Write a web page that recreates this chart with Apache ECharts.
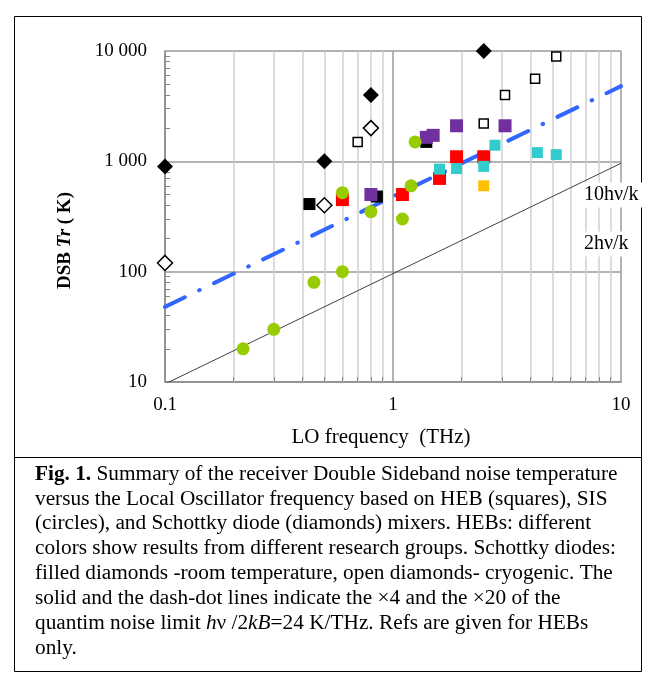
<!DOCTYPE html>
<html lang="en">
  <head>
    <meta charset="UTF-8" />
    <title>Receiver noise temperature vs LO frequency</title>
    <style>
      html,
      body {
        margin: 0;
        padding: 0;
        background: #fff;
      }
      #chart {
        width: 654px;
        height: 681px;
      }
    </style>
    <script src="https://cdn.jsdelivr.net/npm/echarts@6/dist/echarts.min.js"></script>
  </head>
  <body>
    <div id="chart"></div>
    <script>
      // points are [LO frequency (THz), DSB Tr (K)]
      const schottkyRoom = [[0.1, 900], [0.5, 1000], [0.8, 4000], [2.5, 10000]]
      const schottkyCryo = [[0.1, 120], [0.5, 400], [0.8, 2000]]
      const sis = [[0.22, 20], [0.3, 30], [0.45, 80], [0.6, 100], [0.6, 520], [0.8, 350], [1.1, 300], [1.2, 600], [1.25, 1500]]
      const hebBlack = [[0.43, 410], [0.85, 480], [1.4, 1500]]
      const hebOpen = [[0.7, 1500], [2.5, 2200], [3.1, 4000], [4.2, 5600], [5.2, 8900]]
      const hebPurple = [[0.8, 500], [1.4, 1650], [1.5, 1720], [1.9, 2100], [3.1, 2100]]
      const hebRed = [[0.6, 450], [1.1, 500], [1.6, 700], [1.9, 1100], [2.5, 1100]]
      const hebCyan = [[1.6, 850], [1.9, 860], [2.5, 900], [2.8, 1400], [4.3, 1200], [5.2, 1150]]
      const hebYellow = [[2.5, 600]]

      // x4 (2hv/k) and x20 (10hv/k) of hv/2k = 24 K/THz
      const line2hvk = [[0.1, 9.6], [10, 960]]
      const line10hvk = [[0.1, 48], [10, 4800]]

      const xMinor = [0.2, 0.3, 0.4, 0.5, 0.6, 0.7, 0.8, 0.9, 2, 3, 4, 5, 6, 7, 8, 9]
      const yMinor = [20, 30, 40, 50, 60, 70, 80, 90, 200, 300, 400, 500, 600, 700, 800, 900,
        2000, 3000, 4000, 5000, 6000, 7000, 8000, 9000]

      const caption = [
        '{b|Fig. 1.} Summary of the receiver Double Sideband noise temperature',
        'versus the Local Oscillator frequency based on HEB (squares), SIS',
        '(circles), and Schottky diode (diamonds) mixers. HEBs: different',
        'colors show results from different research groups. Schottky diodes:',
        'filled diamonds -room temperature, open diamonds- cryogenic. The',
        'solid and the dash-dot lines indicate the \u00d74 and the \u00d720 of the',
        'quantim noise limit {i|h}\u03bd /2{i|kB}=24 K/THz. Refs are given for HEBs',
        'only.'
      ]

      const serif = '"Liberation Serif", "Times New Roman", serif'
      const chart = echarts.init(document.getElementById('chart'))

      function thousands(v) {
        return String(v).replace(/\B(?=(\d{3})+(?!\d))/g, ' ')
      }

      function scatter(name, data, symbol, size, color, border) {
        return {
          name,
          type: 'scatter',
          data,
          symbol,
          symbolSize: size,
          z: 3,
          silent: true,
          itemStyle: border
            ? { color: '#fff', borderColor: '#000', borderWidth: 1.5, opacity: 1 }
            : { color, opacity: 1 }
        }
      }

      const tickGrey = '#8a8a8a'
      const gridLines = xMinor.map(v => ({ xAxis: v }))
      const ticks = yMinor
        .map(v => [{ coord: [0.1, v] }, { coord: [0.1053, v] }])
        .concat(xMinor.map(v => [{ coord: [v, 10] }, { coord: [v, 11.1] }]))

      const options = {
        animation: false,
        grid: { left: 165, right: 33, top: 51, bottom: 299 },
        xAxis: {
          type: 'log',
          logBase: 10,
          min: 0.1,
          max: 10,
          name: 'LO frequency  (THz)',
          nameLocation: 'middle',
          nameGap: 45,
          nameTextStyle: { fontFamily: serif, fontSize: 21, color: '#000', padding: [0, 24, 0, 0] },
          axisLine: { lineStyle: { color: tickGrey, width: 1.5 } },
          axisTick: { show: false },
          axisLabel: { fontFamily: serif, fontSize: 19, color: '#000', margin: 14 },
          splitLine: { show: true, lineStyle: { color: '#9a9a9a', width: 1.5 } }
        },
        yAxis: {
          type: 'log',
          logBase: 10,
          min: 10,
          max: 10000,
          name: 'DSB {i|Tr} ( K)',
          nameLocation: 'middle',
          nameGap: 90,
          nameTextStyle: {
            fontFamily: serif,
            fontSize: 19,
            fontWeight: 'bold',
            color: '#000',
            padding: [0, 48, 0, 0],
            rich: {
              i: { fontFamily: serif, fontSize: 19, fontWeight: 'bold', fontStyle: 'italic', color: '#000' }
            }
          },
          axisLine: { show: true, lineStyle: { color: tickGrey, width: 1.5 } },
          axisTick: { show: false },
          axisLabel: { fontFamily: serif, fontSize: 19, color: '#000', margin: 18, formatter: thousands },
          splitLine: { show: true, lineStyle: { color: '#9a9a9a', width: 1.5 } }
        },
        series: [
          {
            // minor vertical grid
            type: 'line',
            data: [],
            z: 1,
            silent: true,
            markLine: {
              z: 1,
              silent: true,
              symbol: 'none',
              label: { show: false },
              animation: false,
              lineStyle: { type: 'solid', color: '#d0d0d0', width: 1.5 },
              data: gridLines
            }
          },
          {
            // minor ticks on the axes
            type: 'line',
            data: [],
            z: 1,
            silent: true,
            markLine: {
              z: 1,
              silent: true,
              symbol: 'none',
              label: { show: false },
              animation: false,
              lineStyle: { type: 'solid', color: tickGrey, width: 1 },
              data: ticks
            }
          },
          {
            name: '2hv/k',
            type: 'line',
            data: line2hvk,
            symbol: 'none',
            z: 2,
            silent: true,
            lineStyle: { color: '#404040', width: 1 }
          },
          {
            name: '10hv/k',
            type: 'line',
            data: line10hvk,
            symbol: 'none',
            z: 2,
            silent: true,
            lineStyle: { color: '#3366ff', width: 4, type: [22, 16, 0.5, 16], cap: 'round' }
          },
          scatter('HEB black', hebBlack, 'rect', 12, '#000'),
          scatter('HEB open', hebOpen, 'rect', 9, null, true),
          scatter('Schottky cryo', schottkyCryo, 'diamond', 15, null, true),
          scatter('Schottky room', schottkyRoom, 'diamond', 16, '#000'),
          scatter('HEB red', hebRed, 'rect', 13, '#ff0000'),
          scatter('HEB cyan', hebCyan, 'rect', 11, '#33cccc'),
          scatter('HEB yellow', hebYellow, 'rect', 11, '#ffc000'),
          scatter('HEB purple', hebPurple, 'rect', 13, '#7030a0'),
          scatter('SIS', sis, 'circle', 13, '#99cc00')
        ],
        graphic: [
          {
            type: 'rect',
            z: 0,
            shape: { x: 14.5, y: 16.5, width: 627, height: 655 },
            style: { fill: 'none', stroke: '#000', lineWidth: 1 }
          },
          {
            type: 'line',
            shape: { x1: 14.5, y1: 457.5, x2: 641.5, y2: 457.5 },
            style: { stroke: '#000', lineWidth: 1 }
          },
          {
            type: 'text',
            z: 100,
            x: 582,
            y: 195,
            style: {
              text: '10h\u03bd/k',
              font: '20px ' + serif,
              fill: '#000',
              verticalAlign: 'middle',
              align: 'left',
              backgroundColor: '#fff',
              padding: [3, 6, 2, 2]
            }
          },
          {
            type: 'text',
            z: 100,
            x: 582,
            y: 244,
            style: {
              text: '2h\u03bd/k',
              font: '20px ' + serif,
              fill: '#000',
              verticalAlign: 'middle',
              align: 'left',
              backgroundColor: '#fff',
              padding: [3, 6, 2, 2]
            }
          }
        ].concat(
          caption.map((t, i) => ({
            type: 'text',
            x: 35,
            y: 474 + i * 24.9,
            style: {
              text: t,
              font: '21.3px ' + serif,
              fill: '#000',
              verticalAlign: 'middle',
              align: 'left',
              rich: {
                b: { fontFamily: serif, fontSize: 21.3, fontWeight: 'bold', fill: '#000' },
                i: { fontFamily: serif, fontSize: 21.3, fontStyle: 'italic', fill: '#000' }
              }
            }
          }))
        )
      }
      chart.setOption(options)
    </script>
  </body>
</html>
